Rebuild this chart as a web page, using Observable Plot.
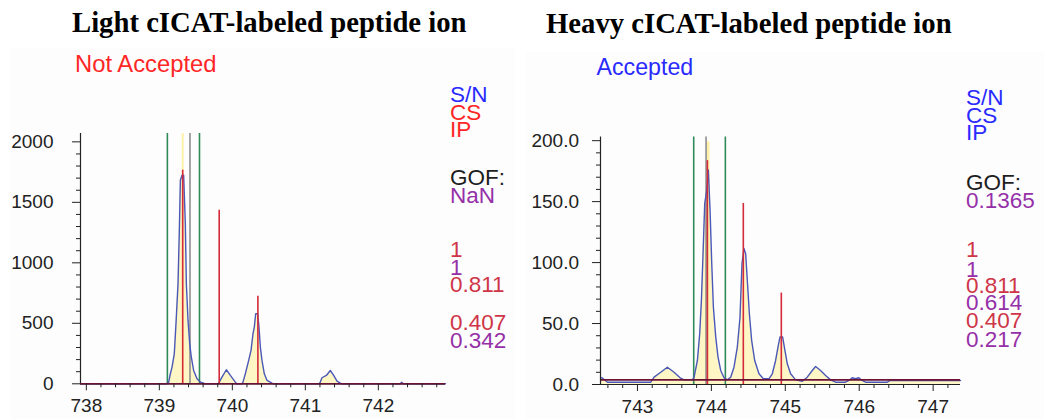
<!DOCTYPE html>
<html><head><meta charset="utf-8">
<script src="https://cdn.jsdelivr.net/npm/d3@7"></script>
<script src="https://cdn.jsdelivr.net/npm/@observablehq/plot@0.6"></script>
<style>
html,body{margin:0;padding:0;background:#fff;}
#wrap{position:relative;width:1044px;height:419px;overflow:hidden;background:#fff;}
.panel{position:absolute;top:0;}
#overlay{position:absolute;left:0;top:0;pointer-events:none;}
</style></head><body><div id="wrap"></div>
<script>
// ---------- DATA ----------
const titles = ["Light cICAT-labeled peptide ion", "Heavy cICAT-labeled peptide ion"];
const statusTexts = ["Not Accepted", "Accepted"];

// Light (left) panel: profile spectrum
const lightMz  = [737.92,739.10,739.128,739.151,739.174,739.205,739.228,739.256,739.274,739.288,739.311,739.333,739.356,739.370,739.393,739.416,739.438,739.470,739.516,739.562,739.607,739.62,739.80,739.813,739.858,739.918,739.973,740.041,740.06,740.13,740.146,740.178,740.224,740.256,740.283,740.301,740.320,740.347,740.365,740.384,740.406,740.438,740.475,740.543,740.56,741.19,741.205,741.228,741.288,741.342,741.388,741.434,741.479,741.50,742.30,742.32,742.34,742.92];
const lightInt = [0,0,14,83,138,248,497,828,1269,1683,1724,1724,1324,828,524,331,221,110,41,14,5,0,0,5,55,116,69,14,0,0,14,83,193,276,414,469,579,579,469,303,193,83,28,5,0,0,14,50,69,110,69,22,5,0,0,12,0,0];
const lightStickMz  = [739.32, 739.82, 740.35];
const lightStickInt = [1766, 1435, 723];
const lightGreen = [739.11, 739.55];
const lightGray  = [739.42];
const lightMarkMz = [739.32];
const lightMarkTop = [2069];
const lightNoise = 0;
const lightYMajor = [0, 500, 1000, 1500, 2000];
const lightXMajor = [738, 739, 740, 741, 742];
const lightNotes = ["S/N","CS","IP","GOF:","NaN","1","1","0.811","0.407","0.342"];

// Heavy (right) panel
const heavyMz  = [742.50,742.52,742.595,743.18,743.225,743.315,743.405,743.495,743.577,743.63,743.743,743.766,743.811,743.842,743.865,743.887,743.910,743.937,743.959,743.982,744.005,744.027,744.059,744.090,744.126,744.171,744.216,744.261,744.306,744.351,744.387,744.414,744.441,744.464,744.486,744.514,744.545,744.586,744.644,744.703,744.779,744.824,744.869,744.901,744.928,744.964,744.995,745.027,745.072,745.140,745.23,745.297,745.365,745.410,745.477,745.545,745.613,745.68,745.815,745.86,745.905,745.95,745.995,746.04,746.086,746.38,746.42,747.37];
const heavyInt = [5.5,5.5,1.9,1.9,6,10,14.2,10,5.5,3.8,3.8,6,19.7,41.6,69,107,148.5,159,176,143,99,63.6,38.9,22.5,11.5,5.5,3.8,6,14.2,30.7,55,99,111.5,107,85.5,58,36,19.7,8.8,4.7,4.7,8.8,19.7,30.7,38.9,38.9,28,17,8.8,3.8,2.7,6,11.5,14.8,11.5,7.4,3.8,1.9,1.9,3.3,5.5,4.7,5.5,3.3,1.9,1.9,3.3,3.3];
const heavyStickMz  = [743.946, 744.432, 744.946];
const heavyStickInt = [183.6, 148.5, 75];
const heavyGreen = [743.761, 744.189];
const heavyGray  = [743.928];
const heavyMarkMz = [743.955];
const heavyMarkTop = [199];
const heavyNoise = 3.8;
const heavyYMajor = [0, 50, 100, 150, 200];
const heavyXMajor = [743, 744, 745, 746, 747];
const heavyNotes = ["S/N","CS","IP","GOF:","0.1365","1","1","0.811","0.614","0.407","0.217"];

// ---------- STYLE ----------
const C = {blue:"#2a2aff", red:"#ff2626", crimson:"#cf3548", purple:"#9530a8", black:"#1e1e1e"};
const lightNoteColors = [C.blue,C.red,C.red,C.black,C.purple,C.crimson,C.purple,C.crimson,C.crimson,C.purple];
const heavyNoteColors = [C.blue,C.blue,C.blue,C.black,C.purple,C.crimson,C.purple,C.crimson,C.purple,C.crimson,C.purple];
const lightNoteBase = [102,119.5,136.5,185,203,256.5,275,291.5,330,348];
const heavyNoteBase = [105,123,140,190,207.5,256.5,276.5,292.5,310,327.5,346.5];

function minorTicks(lo, hi, step) {
  return d3.range(Math.round(lo/step), Math.round(hi/step) + 1).map(k => +(k*step).toFixed(4));
}

function panel(o) {
  const prof = o.mz.map((m,i) => ({mz:m, v:o.int[i]}));
  const sticks = o.stickMz.map((m,i) => ({mz:m, v:o.stickInt[i]}));
  const marks = o.markMz.map((m,i) => ({mz:m, v:o.markTop[i]}));
  const yMinor = minorTicks(0, o.yMajor[o.yMajor.length-1], o.yMinorStep).filter(v => !o.yMajor.includes(v));
  const xMinor = minorTicks(Math.ceil(o.xDomain[0]*5)/5, Math.floor(o.xDomain[1]*5)/5, 0.2).filter(v => Math.abs(v - Math.round(v)) > 1e-6);
  return Plot.plot({
    width: o.width, height: 419,
    marginLeft: 80, marginRight: o.mr, marginTop: o.mt, marginBottom: o.mb,
    x: {domain: o.xDomain, label: null},
    y: {domain: [0, o.yTop], label: null},
    style: {fontFamily: "'Liberation Sans', Arial, sans-serif", fontSize: "19px", color: "#222", background: "transparent", overflow: "visible"},
    marks: [
      Plot.areaY(prof, {x:"mz", y:"v", fill:"#fff6c6"}),
      Plot.ruleX(marks, {x:"mz", y1:0, y2:"v", stroke:"#fff1a8", strokeWidth:o.markW}),
      Plot.ruleX(o.green, {y1:0, y2:o.yTop, stroke:"#2e8a58", strokeWidth:1.6}),
      Plot.ruleX(o.gray, {y1:0, y2:o.yTop, stroke:"#8e8e8e", strokeWidth:1.6}),
      Plot.line(prof, {x:"mz", y:"v", stroke:"#4a58b8", strokeWidth:1.4}),
      Plot.ruleX(sticks, {x:"mz", y1:0, y2:"v", stroke:"#d42a3a", strokeWidth:1.6}),
      Plot.ruleY([0], {stroke:"#222", strokeWidth:1.2}),
      Plot.ruleY([o.noise], {stroke:"#6c1236", strokeWidth:1.6}),
      Plot.ruleX([o.xDomain[0]], {y1:0, y2:o.yTop, stroke:"#222", strokeWidth:1.2}),
      Plot.axisY(o.yMajor, {tickSize:8, tickPadding:o.yPad, tickFormat:o.yFmt}),
      Plot.axisY(yMinor, {tickSize:4, tickFormat:() => ""}),
      Plot.axisX(o.xMajor, {tickSize:7, tickPadding:8, tickFormat:d => String(d)}),
      Plot.axisX(xMinor, {tickSize:4, tickFormat:() => ""})
    ]
  });
}

const wrap = document.getElementById("wrap");

// faint panel backgrounds
const bg = d3.select(wrap).append("svg").attr("width",1044).attr("height",419).style("position","absolute").style("left",0).style("top",0);
bg.append("rect").attr("x",10).attr("y",48).attr("width",505).attr("height",371).attr("fill","#fdfdfd");
bg.append("rect").attr("x",526).attr("y",52).attr("width",518).attr("height",367).attr("fill","#fdfdfd");

const left = panel({
  mz: lightMz, int: lightInt, stickMz: lightStickMz, stickInt: lightStickInt,
  green: lightGreen, gray: lightGray, markMz: lightMarkMz, markTop: lightMarkTop, markW: 2,
  noise: lightNoise, yMajor: lightYMajor, xMajor: lightXMajor, yMinorStep: 100,
  xDomain: [737.92, 742.92], yTop: 2069, width: 520, mr: 75, mt: 133, mb: 35.7,
  yPad: 19, yFmt: d => String(d)
});
left.classList.add("panel"); left.style.left = "0px";
wrap.appendChild(left);

const right = panel({
  mz: heavyMz, int: heavyInt, stickMz: heavyStickMz, stickInt: heavyStickInt,
  green: heavyGreen, gray: heavyGray, markMz: heavyMarkMz, markTop: heavyMarkTop, markW: 3,
  noise: heavyNoise, yMajor: heavyYMajor, xMajor: heavyXMajor, yMinorStep: 10,
  xDomain: [742.50, 747.37], yTop: 203, width: 524, mr: 84, mt: 136.5, mb: 35,
  yPad: 13.5, yFmt: d3.format(".1f")
});
right.classList.add("panel"); right.style.left = "520px";
wrap.appendChild(right);

// ---------- TEXT OVERLAY ----------
const ov = d3.select(wrap).append("svg").attr("id","overlay").attr("width",1044).attr("height",419);
const serif = "'Liberation Serif','Times New Roman',serif";
const sans = "'Liberation Sans',Arial,sans-serif";
ov.append("text").attr("x",72).attr("y",32).attr("font-family",serif).attr("font-weight","bold").attr("font-size",28.7).attr("fill","#000").text(titles[0]);
ov.append("text").attr("x",546).attr("y",33).attr("font-family",serif).attr("font-weight","bold").attr("font-size",28.7).attr("fill","#000").text(titles[1]);
ov.append("text").attr("x",75).attr("y",72).attr("font-family",sans).attr("font-size",23.8).attr("fill",C.red).text(statusTexts[0]);
ov.append("text").attr("x",596.5).attr("y",75).attr("font-family",sans).attr("font-size",23.2).attr("fill",C.blue).text(statusTexts[1]);

function notes(texts, colors, bases, x) {
  texts.forEach((t,i) => {
    ov.append("text").attr("x",x).attr("y",bases[i]).attr("font-family",sans).attr("font-size",22.5).attr("fill",colors[i]).text(t);
  });
}
notes(lightNotes, lightNoteColors, lightNoteBase, 450);
notes(heavyNotes, heavyNoteColors, heavyNoteBase, 966);
</script></body></html>
